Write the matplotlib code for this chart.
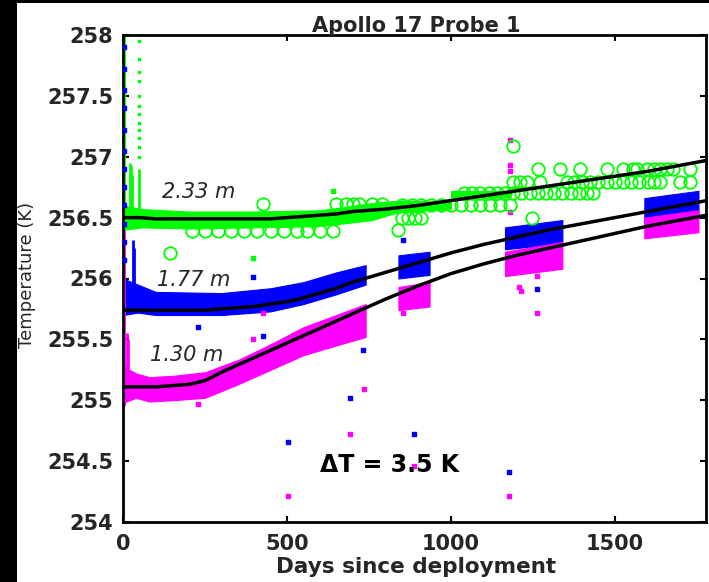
import matplotlib
matplotlib.use("Agg")
import matplotlib.pyplot as plt
from matplotlib.patches import Rectangle

plt.rcParams['font.family'] = ['DejaVu Sans']

GREEN = '#00ff00'
BLUE = '#0000ff'
MAGENTA = '#ff00ff'
TXT = '#262626'

# ---- fitted model curves (K) ----
fit_days = [0, 50, 100, 150, 200, 250, 300, 350, 400, 450, 500, 550, 600, 650, 700,
            750, 800, 900, 1000, 1100, 1200, 1300, 1400, 1500, 1600, 1700, 1780]
fit_233 = [256.50, 256.50, 256.49, 256.49, 256.49, 256.49, 256.49, 256.49, 256.49, 256.49,
           256.50, 256.51, 256.52, 256.53, 256.55, 256.56, 256.57, 256.60, 256.64, 256.68,
           256.72, 256.76, 256.80, 256.84, 256.88, 256.93, 256.97]
fit_177 = [255.74, 255.74, 255.74, 255.74, 255.74, 255.74, 255.75, 255.76, 255.77, 255.79,
           255.81, 255.84, 255.88, 255.92, 255.97, 256.01, 256.05, 256.13, 256.21, 256.28,
           256.34, 256.40, 256.45, 256.50, 256.55, 256.60, 256.64]
fit_130 = [255.11, 255.11, 255.11, 255.12, 255.13, 255.16, 255.23, 255.29, 255.35, 255.41,
           255.47, 255.53, 255.59, 255.65, 255.71, 255.77, 255.83, 255.94, 256.04, 256.12,
           256.19, 256.25, 256.31, 256.37, 256.43, 256.48, 256.52]

# ---- measured data envelopes: (days, low, high) per recording period ----
mag_days = [0, 20, 40, 80, 150, 250, 350, 450, 550, 650, 740]
mag_lo = [254.98, 255.00, 255.02, 254.99, 255.00, 255.02, 255.13, 255.25, 255.37, 255.45, 255.52]
mag_hi = [255.30, 255.25, 255.22, 255.19, 255.20, 255.23, 255.33, 255.46, 255.60, 255.70, 255.79]
mag_blocks = [([840, 935], [255.74, 255.77], [255.93, 255.97]),
              ([1165, 1340], [256.02, 256.08], [256.22, 256.30]),
              ([1590, 1755], [256.33, 256.38], [256.50, 256.56])]

blue_days = [0, 45, 100, 300, 450, 550, 650, 740]
blue_lo = [255.70, 255.72, 255.70, 255.70, 255.73, 255.79, 255.87, 255.95]
blue_hi = [256.00, 255.95, 255.89, 255.88, 255.92, 255.97, 256.05, 256.11]
blue_blocks = [([840, 935], [256.00, 256.03], [256.19, 256.22]),
               ([1165, 1340], [256.24, 256.29], [256.42, 256.48]),
               ([1590, 1755], [256.45, 256.50], [256.66, 256.72])]

green_days = [0, 60, 200, 400, 600, 760, 845, 1000]
green_lo = [256.40, 256.42, 256.41, 256.42, 256.43, 256.48, 256.55, 256.57]
green_hi = [256.60, 256.57, 256.55, 256.55, 256.56, 256.62, 256.64, 256.63]
green_blocks = [([1000, 1180], [256.67, 256.67], [256.72, 256.72])]

# early-time spikes right after deployment (day, top of spike)
spike_green_d = [20, 24, 28, 50]
spike_green_top = [256.95, 256.92, 256.85, 256.90]
spike_blue_d = [30, 34]
spike_blue_top = [256.32, 256.25]
spike_mag_d = [12, 16]
spike_mag_top = [255.55, 255.50]
col_green = [257.95, 257.80, 257.70, 257.62, 257.50, 257.42, 257.35, 257.28, 257.22,
             257.15, 257.08, 257.00]
col_blue = [257.90, 257.72, 257.55, 257.40, 257.22, 257.05, 256.90, 256.75, 256.60,
            256.45, 256.30, 256.15]

# green open circles (quantised readings), one list of days per temperature level
circ_levels = [256.21, 256.39, 256.40, 256.50, 256.60, 256.61, 256.70, 256.79, 256.90, 257.09]
circ_rows = [
    [143],
    [210, 250, 290, 330, 370, 410, 450, 490, 530, 560, 600, 640],
    [840],
    [850, 870, 890, 910, 1247],
    [850, 880, 910, 940, 970, 1000, 1030, 1060, 1090, 1120, 1150, 1180],
    [427, 650, 680, 700, 720, 760, 790],
    [1040, 1065, 1090, 1115, 1140, 1165, 1190, 1215, 1240, 1265, 1290, 1315, 1340,
     1365, 1390, 1415, 1433],
    [1190, 1210, 1232, 1271, 1353, 1375, 1400, 1425, 1450, 1475, 1500, 1525, 1550,
     1575, 1600, 1620, 1637, 1698, 1729],
    [1265, 1332, 1393, 1476, 1524, 1555, 1567, 1598, 1620, 1637, 1660, 1677, 1729],
    [1189],
]

# isolated outliers
out_blue_d = [503, 692, 887, 1177, 397, 228, 427, 732, 1262, 854]
out_blue_t = [254.66, 255.02, 254.72, 254.41, 256.01, 255.60, 255.53, 255.41, 255.91, 256.32]
out_mag_d = [229, 503, 735, 692, 887, 1177, 1262, 1207, 1215, 1262, 427, 397, 854,
             1180, 1180, 1180, 1180]
out_mag_t = [254.97, 254.21, 255.09, 254.72, 254.46, 254.21, 255.72, 255.93, 255.90,
             256.02, 255.72, 255.50, 255.72, 257.14, 256.93, 256.88, 256.55]
out_green_d = [397, 640]
out_green_t = [256.17, 256.72]

W, H = 709, 582
fig = plt.figure(figsize=(W / 100, H / 100), dpi=100, facecolor='black')
fig.add_artist(Rectangle((17 / W, 0), 1, 1 - 3 / H, transform=fig.transFigure,
                         facecolor='white', edgecolor='none', zorder=-10))
ax = fig.add_axes([123 / W, 60 / H, (706 - 123) / W, (522 - 35) / H])
ax.set_facecolor('white')


def band(days, lo, hi, color):
    ax.fill_between(days, lo, hi, color=color, linewidth=0.8, edgecolor=color, zorder=2)


band(blue_days, blue_lo, blue_hi, BLUE)
for d, lo, hi in blue_blocks:
    band(d, lo, hi, BLUE)
ax.vlines(spike_blue_d, 255.85, spike_blue_top, color=BLUE, linewidth=2, zorder=2)
band(mag_days, mag_lo, mag_hi, MAGENTA)
for d, lo, hi in mag_blocks:
    band(d, lo, hi, MAGENTA)
ax.vlines(spike_mag_d, 255.20, spike_mag_top, color=MAGENTA, linewidth=2, zorder=2)
band(green_days, green_lo, green_hi, GREEN)
for d, lo, hi in green_blocks:
    band(d, lo, hi, GREEN)
ax.vlines(spike_green_d, 256.50, spike_green_top, color=GREEN, linewidth=2, zorder=2)

ax.vlines([3], [256.40], [258.0], color=GREEN, linewidth=3, zorder=2)
ax.vlines([3], [254.95], [256.40], color=MAGENTA, linewidth=2, zorder=2)
ax.scatter([3] * len(col_blue), col_blue, s=5, marker='s', color=BLUE, zorder=3)
ax.scatter([48] * len(col_green), col_green, s=4, marker='s', color=GREEN, zorder=3)

ax.scatter(out_blue_d, out_blue_t, s=5, marker='s', color=BLUE, zorder=3)
ax.scatter(out_mag_d, out_mag_t, s=5, marker='s', color=MAGENTA, zorder=3)
ax.scatter(out_green_d, out_green_t, s=5, marker='s', color=GREEN, zorder=3)
for level, row in zip(circ_levels, circ_rows):
    ax.plot(row, [level] * len(row), 'o', markersize=9, markerfacecolor='none',
            markeredgecolor=GREEN, markeredgewidth=1.3, zorder=4)

for fit in (fit_233, fit_177, fit_130):
    ax.plot(fit_days, fit, color='black', linewidth=2.5, zorder=5)

ax.text(119, 256.71, '2.33 m', style='italic', fontsize=15, color=TXT, va='center', zorder=6)
ax.text(104, 255.99, '1.77 m', style='italic', fontsize=15, color=TXT, va='center', zorder=6)
ax.text(82, 255.37, '1.30 m', style='italic', fontsize=15, color=TXT, va='center', zorder=6)
ax.text(814, 254.41, '\u0394T = 3.5 K', fontsize=17, fontweight='bold', color='black',
        ha='center', va='baseline', zorder=6)

ax.set_xlim(0, 1778)
ax.set_ylim(254, 258)
ax.set_xticks([0, 500, 1000, 1500])
ax.set_yticks([254, 254.5, 255, 255.5, 256, 256.5, 257, 257.5, 258])
ax.set_yticklabels(['254', '254.5', '255', '255.5', '256', '256.5', '257', '257.5', '258'])
ax.tick_params(direction='in', length=4, width=1.5, top=True, right=True,
               labelsize=15, labelcolor=TXT)
ax.tick_params(axis='x', pad=9)
ax.tick_params(axis='y', pad=7)
for lab in ax.get_xticklabels() + ax.get_yticklabels():
    lab.set_fontweight('bold')
for sp in ax.spines.values():
    sp.set_linewidth(2)
    sp.set_color('black')

fig.text(416 / W, 1 - 32 / H, 'Apollo 17 Probe 1', fontsize=15, fontweight='bold',
         color=TXT, ha='center', va='baseline')
fig.text(416 / W, 9 / H, 'Days since deployment', fontsize=15.5, fontweight='bold',
         color=TXT, ha='center', va='baseline')
fig.text(27 / W, 1 - 275 / H, 'Temperature (K)', fontsize=13, color=TXT,
         rotation=90, ha='center', va='center')

fig.savefig('out.png', dpi=100, facecolor=fig.get_facecolor())
